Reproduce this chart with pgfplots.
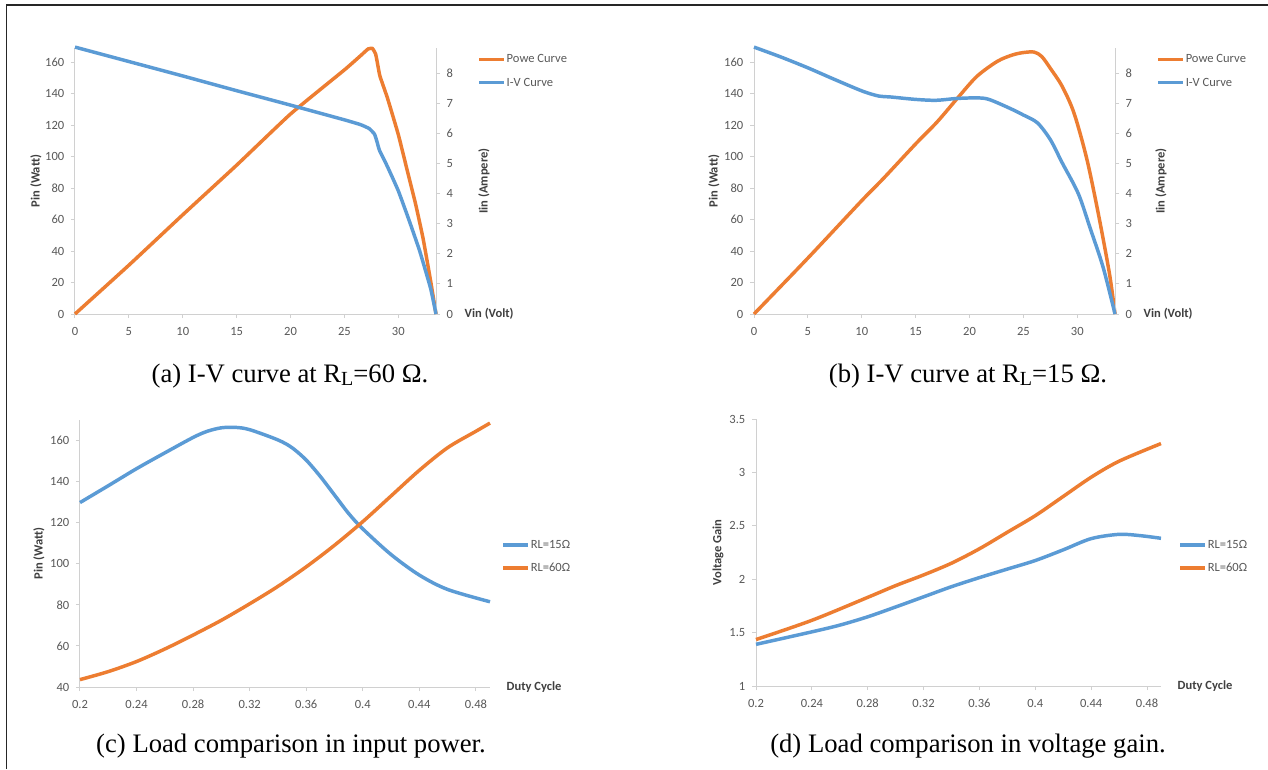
\documentclass[border=0pt]{standalone}
\usepackage{fontspec}
\setmainfont{Liberation Serif}
\newfontfamily\calibri{Carlito}
\usepackage{pgfplots}
\pgfplotsset{compat=1.18}

\definecolor{xlorange}{HTML}{ED7D31}
\definecolor{xlblue}{HTML}{5B9BD5}
\definecolor{axisgray}{HTML}{D0D0D0}
\definecolor{tickgray}{HTML}{595959}
\definecolor{labelgray}{HTML}{404040}

\pgfplotsset{
  xl/.style={
    scale only axis, clip=false, enlargelimits=false,
    axis line style={draw=axisgray, line width=0.75pt},
    tick style={draw=axisgray, line width=0.75pt},
    tick align=outside, major tick length=3pt,
    /pgf/number format/assume math mode=true,
    tick label style={font=\calibri\fontsize{9.4}{10}\selectfont, text=tickgray},
    yticklabel style={xshift=-1.5pt},
    xticklabel style={yshift=-3.5pt},
    label style={font=\calibri\bfseries\fontsize{9.4}{10}\selectfont, text=labelgray},
    legend style={draw=none, fill=none, inner sep=0pt, row sep=7.5pt,
      font=\calibri\fontsize{9.4}{10}\selectfont, text=tickgray,
      nodes={inner sep=0.5pt, text height=7pt, text depth=2pt}},
    legend cell align=left,
    legend image code/.code={\draw[##1, line width=2.6pt] (0pt,0pt) -- (19pt,0pt);},
  },
  ser/.style={line width=2.6pt, smooth, tension=0.5},
}

\begin{document}
\begin{tikzpicture}
\fill[white] (0,0) rectangle (951pt,576.75pt);
\draw[line width=1.1pt, black!85] (4.8pt,0pt) -- (4.8pt,573pt) -- (951pt,573pt);

% ---- (a) R_L = 60 ohm ----
\begin{axis}[xl, at={(56.25pt,341.25pt)}, anchor=south west,
  width=270.75pt, height=199.5pt,
  xmin=0, xmax=33.5, ymin=0, ymax=168.9,
  xtick={0,5,...,30}, ytick={0,20,...,160},
  axis x line*=bottom, axis y line*=left,
  ylabel={Pin (Watt)},
  ylabel style={at={(axis description cs:0,0.5)}, anchor=center, yshift=29.25pt},
  xlabel={Vin (Volt)},
  xlabel style={at={(axis description cs:1,0)}, anchor=west, xshift=18pt}]
\addplot[ser, tension=0.25, xlorange] coordinates {
  (0,0) (5,31) (10,63) (15,94.5) (20,127) (25,155) (26.5,164) (27.2,168.3)
  (27.6,168.6) (27.9,165) (28.1,158) (28.3,151) (29,137) (30,114) (30.8,92)
  (31.6,70) (32.3,48) (33,21) (33.5,0)};
\end{axis}
\begin{axis}[xl, at={(56.25pt,341.25pt)}, anchor=south west,
  width=270.75pt, height=199.5pt,
  xmin=0, xmax=33.5, ymin=0, ymax=8.85,
  ytick={0,1,...,8},
  yticklabel style={xshift=3pt},
  axis x line=none, axis y line*=right,
  ylabel={Iin (Ampere)},
  ylabel style={at={(axis description cs:1,0.5)}, anchor=center, yshift=-36pt},
  legend style={at={(1.1136,0.9135)}, anchor=west}]
\addlegendimage{xlorange}
\addlegendentry{Powe Curve}
\addplot[ser, tension=0.25, xlblue] coordinates {
  (0,8.88) (5,8.4) (10,7.92) (15,7.43) (20,6.95) (25,6.46) (26.5,6.3)
  (27.3,6.17) (27.8,5.98) (28.05,5.7) (28.25,5.45) (29,4.9) (30,4.1)
  (31,3.12) (32,2.08) (33,0.85) (33.5,0)};
\addlegendentry{I-V Curve}
\end{axis}

% ---- (b) R_L = 15 ohm ----
\begin{axis}[xl, at={(565.5pt,341.25pt)}, anchor=south west,
  width=270.75pt, height=199.5pt,
  xmin=0, xmax=33.5, ymin=0, ymax=168.9,
  xtick={0,5,...,30}, ytick={0,20,...,160},
  axis x line*=bottom, axis y line*=left,
  ylabel={Pin (Watt)},
  ylabel style={at={(axis description cs:0,0.5)}, anchor=center, yshift=30pt},
  xlabel={Vin (Volt)},
  xlabel style={at={(axis description cs:1,0)}, anchor=west, xshift=18pt}]
\addplot[ser, xlorange] coordinates {
  (0,0) (5,35.5) (10,72) (12,86) (15,108) (17,122) (19,138) (20.7,151)
  (22.6,160.5) (24,164.5) (25,166) (26,166.3) (26.7,163.5) (27.5,156)
  (28.6,144.5) (29.7,127.5) (30.9,98) (32,62) (33,25) (33.5,0)};
\end{axis}
\begin{axis}[xl, at={(565.5pt,341.25pt)}, anchor=south west,
  width=270.75pt, height=199.5pt,
  xmin=0, xmax=33.5, ymin=0, ymax=8.85,
  ytick={0,1,...,8},
  yticklabel style={xshift=3pt},
  axis x line=none, axis y line*=right,
  ylabel={Iin (Ampere)},
  ylabel style={at={(axis description cs:1,0.5)}, anchor=center, yshift=-34.5pt},
  legend style={at={(1.1136,0.9135)}, anchor=west}]
\addlegendimage{xlorange}
\addlegendentry{Powe Curve}
\addplot[ser, xlblue] coordinates {
  (0,8.88) (2.5,8.55) (5,8.19) (7.5,7.8) (10.1,7.41) (11.6,7.25) (12.7,7.22)
  (15,7.14) (16.9,7.11) (18.8,7.17) (20.7,7.19) (21.8,7.14) (23.7,6.85)
  (25,6.62) (26.3,6.36) (27.5,5.8) (28.6,5.03) (30.1,4.0) (31.2,2.85)
  (32.4,1.55) (33.5,0)};
\addlegendentry{I-V Curve}
\end{axis}

% ---- (c) input power ----
\begin{axis}[xl, at={(60pt,61.5pt)}, anchor=south west,
  width=307.5pt, height=200.25pt,
  xmin=0.2, xmax=0.49, ymin=40, ymax=170,
  xtick={0.2,0.24,0.28,0.32,0.36,0.4,0.44,0.48}, ytick={40,60,...,160},
  axis x line*=bottom, axis y line*=left,
  ylabel={Pin (Watt)},
  ylabel style={at={(axis description cs:0,0.5)}, anchor=center, yshift=30.75pt},
  xlabel={Duty Cycle},
  xlabel style={at={(axis description cs:1,0)}, anchor=west, xshift=9pt},
  legend style={at={(1.027,0.489)}, anchor=west}]
\addplot[ser, xlblue] coordinates {
  (0.20,129.8) (0.22,138) (0.24,146.3) (0.26,154) (0.28,161.5) (0.29,164.5)
  (0.30,166.2) (0.31,166.4) (0.32,165.3) (0.34,160.3) (0.35,156.5) (0.36,150.5)
  (0.37,142.5) (0.38,133.5) (0.39,124.5) (0.40,117) (0.42,104.5) (0.44,94.5)
  (0.46,87.5) (0.49,81.5)};
\addlegendentry{RL=15Ω}
\addplot[ser, xlorange] coordinates {
  (0.20,43.6) (0.22,47.5) (0.24,52.4) (0.26,58.5) (0.28,65.3) (0.30,72.5)
  (0.32,80.5) (0.34,89) (0.36,98.5) (0.38,109) (0.40,120.5) (0.42,133)
  (0.44,145.5) (0.46,156.5) (0.48,164.5) (0.49,168.5)};
\addlegendentry{RL=60Ω}
\end{axis}

% ---- (d) voltage gain ----
\begin{axis}[xl, at={(567pt,62.25pt)}, anchor=south west,
  width=303.75pt, height=200.25pt,
  xmin=0.2, xmax=0.49, ymin=1, ymax=3.5,
  xtick={0.2,0.24,0.28,0.32,0.36,0.4,0.44,0.48}, ytick={1,1.5,...,3.5},
  axis x line*=bottom, axis y line*=left,
  ylabel={Voltage Gain},
  ylabel style={at={(axis description cs:0,0.5)}, anchor=center, yshift=28.5pt},
  xlabel={Duty Cycle},
  xlabel style={at={(axis description cs:1,0)}, anchor=west, xshift=9pt},
  legend style={at={(1.042,0.485)}, anchor=west}]
\addplot[ser, xlblue] coordinates {
  (0.20,1.39) (0.24,1.507) (0.26,1.57) (0.28,1.648) (0.30,1.74) (0.32,1.835)
  (0.34,1.93) (0.36,2.015) (0.38,2.095) (0.40,2.175) (0.42,2.275) (0.44,2.38)
  (0.46,2.42) (0.475,2.408) (0.49,2.383)};
\addlegendentry{RL=15Ω}
\addplot[ser, xlorange] coordinates {
  (0.20,1.435) (0.24,1.615) (0.28,1.83) (0.30,1.94) (0.32,2.04) (0.34,2.15)
  (0.36,2.285) (0.38,2.44) (0.40,2.595) (0.42,2.775) (0.44,2.955) (0.46,3.105)
  (0.49,3.27)};
\addlegendentry{RL=60Ω}
\end{axis}

% captions
\node[anchor=base, font=\fontsize{20}{22}\selectfont] at (217.5pt,290.25pt)
  {(a) I-V curve at R\raisebox{-0.25ex}{\fontsize{15}{15}\selectfont L}=60 Ω.};
\node[anchor=base, font=\fontsize{20}{22}\selectfont] at (726pt,290.25pt)
  {(b) I-V curve at R\raisebox{-0.25ex}{\fontsize{15}{15}\selectfont L}=15 Ω.};
\node[anchor=base, font=\fontsize{20}{22}\selectfont] at (218.25pt,12.75pt)
  {(c) Load comparison in input power.};
\node[anchor=base, font=\fontsize{20}{22}\selectfont] at (726pt,12.75pt)
  {(d) Load comparison in voltage gain.};

\pgfresetboundingbox
\path (0,0) rectangle (951pt,576.75pt);
\end{tikzpicture}
\end{document}
